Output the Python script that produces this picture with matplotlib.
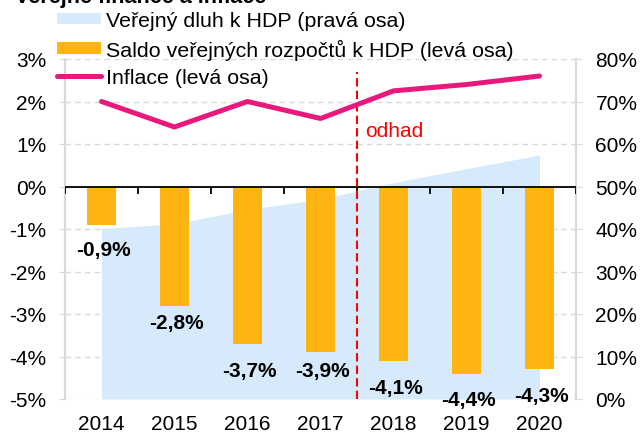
import matplotlib
matplotlib.use("Agg")
import matplotlib.pyplot as plt
from matplotlib.patches import Patch
from matplotlib.lines import Line2D

plt.rcParams['font.family'] = ['Liberation Sans', 'DejaVu Sans']

years = ['2014', '2015', '2016', '2017', '2018', '2019', '2020']
saldo = [-0.9, -2.8, -3.7, -3.9, -4.1, -4.4, -4.3]        # % HDP, levá osa
inflace = [2.0, 1.4, 2.0, 1.6, 2.25, 2.4, 2.6]           # %, levá osa
dluh = [40.1, 41.2, 44.6, 47.0, 50.9, 54.2, 57.4]       # % HDP, pravá osa
left_ticks = [-5, -4, -3, -2, -1, 0, 1, 2, 3]
right_ticks = [0, 10, 20, 30, 40, 50, 60, 70, 80]
label_dy = [18, 12, 19, 13, 19, 19, 19]   # posun popisku pod sloupcem (pt)

c_blue = '#d6eafb'
c_orange = '#ffb511'
c_pink = '#e8187c'
c_grid = '#d9d9d9'
fs = 15

fig = plt.figure(figsize=(6.41, 4.35), dpi=100)
ax = fig.add_axes([65 / 641, 35 / 435, 511 / 641, 340 / 435])
ax2 = ax.twinx()
ax.set_zorder(ax2.get_zorder() + 1)
ax.patch.set_visible(False)

x = list(range(len(years)))

# pravá osa - dluh (plocha) + mřížka
ax2.fill_between(x, 0, dluh, color=c_blue, lw=0, zorder=2)
ax2.set_ylim(0, 80)
ax2.set_yticks(right_ticks)
ax2.set_yticklabels([f'{t}%' for t in right_ticks])
ax2.set_axisbelow(True)
ax2.grid(axis='y', color=c_grid, lw=1, linestyle=(0, (4, 3)))
ax2.tick_params(axis='y', length=4, color=c_grid, pad=10, labelsize=fs)

# levá osa - saldo + inflace
ax.bar(x, saldo, width=0.4, color=c_orange, zorder=3)
ax.axhline(0, color='black', lw=1.3, zorder=4)
ax.vlines([i - 0.5 for i in range(len(years) + 1)], -0.17, 0, colors='black', lw=1.3, zorder=4)
ax.plot(x, inflace, color=c_pink, lw=3.6, solid_capstyle='round', zorder=6)
ax.vlines(3.5, -5, 2.7, colors='red', lw=1.5, linestyles=(0, (4, 2)), zorder=5)
ax.text(3.61, 1.18, 'odhad', color='red', fontsize=fs, ha='left', va='baseline')

for xi, v, dy in zip(x, saldo, label_dy):
    ax.annotate(f'{v:.1f}'.replace('.', ',') + '%', (xi, v), xytext=(1.5, -dy),
                textcoords='offset points', ha='center', va='center',
                fontsize=fs, fontweight='bold', zorder=7, annotation_clip=False)

ax.set_xlim(-0.5, 6.5)
ax.set_ylim(-5, 3)
ax.set_yticks(left_ticks)
ax.set_yticklabels([f'{t}%' for t in left_ticks])
ax.set_xticks(x)
ax.set_xticklabels(years)
ax.tick_params(axis='y', length=4, color=c_grid, pad=9.5, labelsize=fs)
ax.tick_params(axis='x', length=0, pad=11, labelsize=fs)

for a in (ax, ax2):
    a.spines['top'].set_visible(False)
    a.spines['bottom'].set_visible(False)
    a.spines['left'].set_color(c_grid)
    a.spines['right'].set_color(c_grid)
    a.spines['left'].set_linewidth(1.5)
    a.spines['right'].set_linewidth(1.5)

handles = [Patch(facecolor=c_blue, edgecolor='none'),
           Patch(facecolor=c_orange, edgecolor='none'),
           Line2D([0], [0], color=c_pink, lw=3.6, solid_capstyle='round')]
labels = ['Veřejný dluh k HDP (pravá osa)',
          'Saldo veřejných rozpočtů k HDP (levá osa)',
          'Inflace (levá osa)']
fig.legend(handles, labels, loc='upper left', bbox_to_anchor=(57 / 641, 1 - 12 / 435),
           frameon=False, fontsize=15.4, borderpad=0, borderaxespad=0,
           handlelength=2.05, handleheight=0.46, handletextpad=0.25, labelspacing=0.4)

fig.text(15 / 641, 1 - 3.5 / 435, 'Veřejné finance a inflace', fontsize=15.5,
         fontweight='bold', ha='left', va='baseline')

fig.savefig('out.png', dpi=100)
